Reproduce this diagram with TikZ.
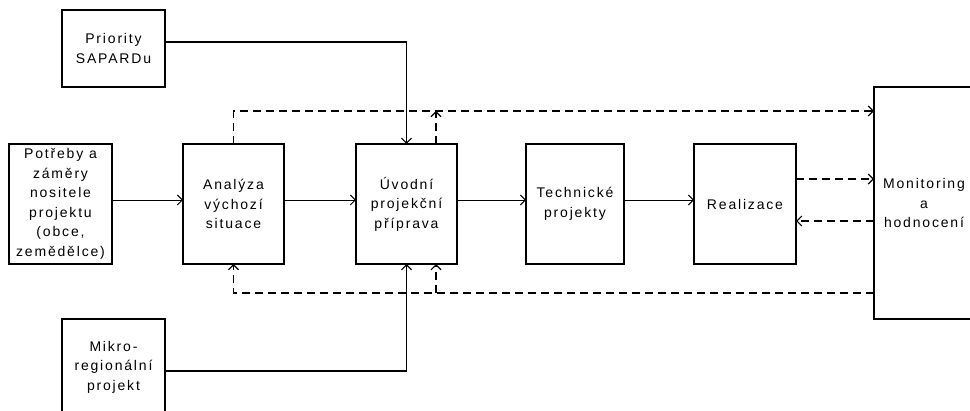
\documentclass[tikz,border=0pt]{standalone}
\usepackage{fontspec}
\setmainfont{Liberation Sans}[LetterSpace=13]
\usetikzlibrary{arrows.meta}
\begin{document}
\begin{tikzpicture}[x=1pt,y=-1pt,
  box/.style={draw,line width=1.4pt,inner sep=0pt,outer sep=0pt,align=center,
    font=\fontsize{14}{19.5}\selectfont},
  arr/.style={line width=0.9pt,-{Straight Barb[length=5pt,width=10pt]}},
  varr/.style={line width=1.2pt,-{Straight Barb[length=5pt,width=10pt]}},
  darr/.style={line width=1.1pt,dash pattern=on 8pt off 5pt,-{Straight Barb[length=5pt,width=10pt]}}]
\clip (0,0) rectangle (970,411);
\fill[white] (0,0) rectangle (970,411);
\node[box,minimum width=103pt,minimum height=120pt] (pot) at (60.5,204)
  {Potřeby a\\záměry\\nositele\\projektu\\(obce,\\zemědělce)};
\node[box,minimum width=101pt,minimum height=120pt] (ana) at (233.5,204)
  {Analýza\\výchozí\\situace};
\node[box,minimum width=101pt,minimum height=120pt] (uvo) at (406.5,204)
  {Úvodní\\projekční\\příprava};
\node[box,minimum width=98pt,minimum height=120pt] (tec) at (575,204)
  {Technické\\projekty};
\node[box,minimum width=102pt,minimum height=120pt] (rea) at (745,204)
  {Realizace};
\node[box,minimum width=100pt,minimum height=232pt] (mon) at (924,203)
  {Monitoring\\a\\hodnocení};
\node[box,minimum width=103pt,minimum height=77pt] (pri) at (113.5,48.5)
  {Priority\\SAPARDu};
\node[box,minimum width=103pt,minimum height=96pt] (mik) at (113.5,367)
  {Mikro-\\regionální\\projekt};
\coordinate (yrow) at (0,200);
\coordinate (ytop) at (0,111);
\coordinate (ybot) at (0,293);
\coordinate (xfb) at (436,0);
\coordinate (ypri) at (0,42);
\coordinate (ymik) at (0,371);
\coordinate (yra) at (0,179);
\coordinate (yrb) at (0,221);
\draw[arr] (pot.east |- yrow) -- (ana.west |- yrow);
\draw[arr] (ana.east |- yrow) -- (uvo.west |- yrow);
\draw[arr] (uvo.east |- yrow) -- (tec.west |- yrow);
\draw[arr] (tec.east |- yrow) -- (rea.west |- yrow);
\draw[varr] (pri.east |- ypri) -| (uvo.north);
\draw[varr] (mik.east |- ymik) -| (uvo.south);
\draw[darr] (ana.north) |- (mon.west |- ytop);
\draw[darr] (uvo.north -| xfb) -- (xfb |- ytop);
\draw[darr] (mon.west |- ybot) -| (ana.south);
\draw[darr] (xfb |- ybot) -- (uvo.south -| xfb);
\draw[darr] (rea.east |- yra) -- (mon.west |- yra);
\draw[darr] (mon.west |- yrb) -- (rea.east |- yrb);
\end{tikzpicture}
\end{document}
